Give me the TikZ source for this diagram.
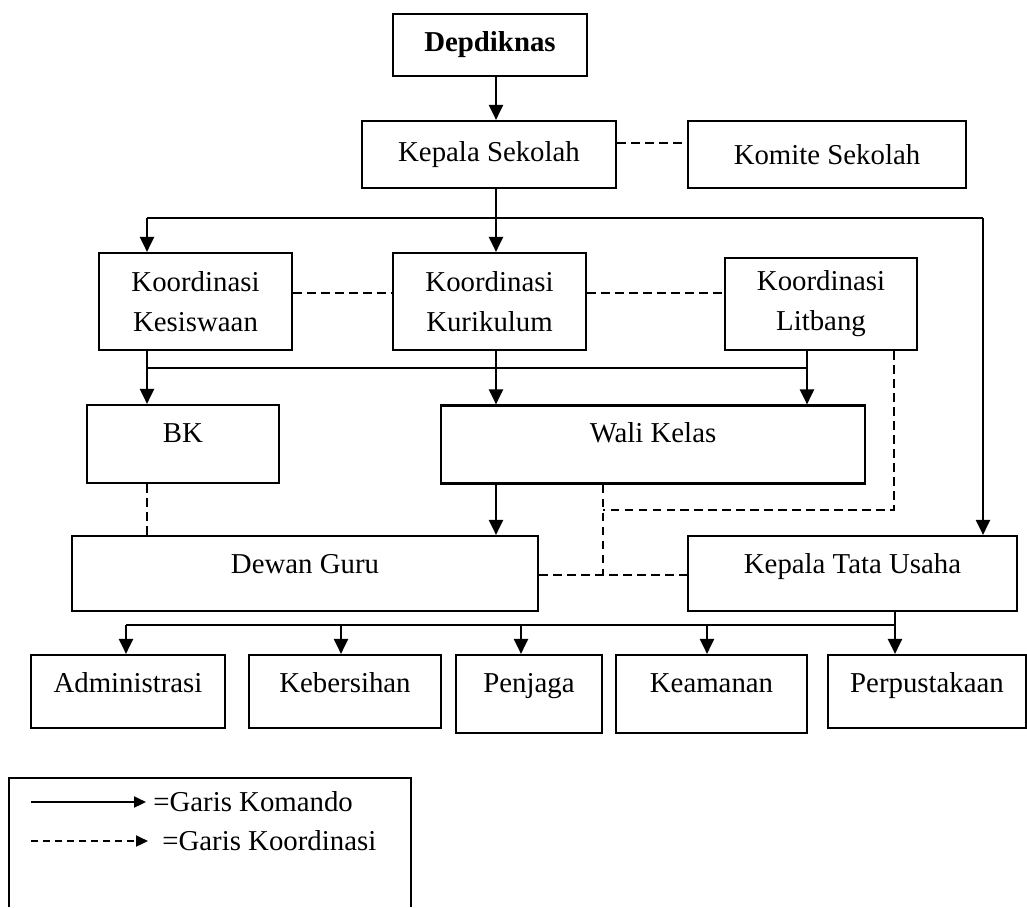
\documentclass[tikz,border=0pt]{standalone}
\usepackage{fontspec}
\setmainfont{Liberation Serif}
\usetikzlibrary{arrows.meta}
\tikzstyle{box}       = [rectangle, draw=black, line width=1.25pt]
\tikzstyle{twoline}   = [box, align=center]
\tikzstyle{topbox}    = [box, inner ysep=0pt, text height=0.74cm]
\tikzstyle{cmdline}   = [line width=1.25pt]
\tikzstyle{arrow}     = [line width=1.25pt, -{Triangle[length=0.3cm, width=0.28cm]}]
\tikzstyle{coordline} = [line width=1.25pt, dash pattern=on 0.17cm off 0.11cm]
\tikzstyle{legarrow}  = [line width=1.25pt, -{Triangle[length=0.24cm, width=0.22cm]}]
\tikzstyle{legtext}   = [anchor=west, inner sep=0pt]

\begin{document}
\begin{tikzpicture}[x=0.02cm, y=-0.02cm, font=\fontsize{16.4}{22.7}\selectfont]
    \useasboundingbox (0,0) rectangle (1027,907);

    % top
    \node (dep)    [box, minimum width=3.88cm, minimum height=1.24cm] at (490,45) {\textbf{Depdiknas}};
    \node (ks)     [box, minimum width=5.08cm, minimum height=1.34cm] at (489,154.5) {Kepala Sekolah};
    \node (komite) [box, minimum width=5.56cm, minimum height=1.34cm] at (827,154.5) {Komite Sekolah};

    % koordinasi
    \node (kes) [twoline, minimum width=3.86cm, minimum height=1.94cm] at (195.5,301.5) {Koordinasi\\Kesiswaan};
    \node (kur) [twoline, minimum width=3.86cm, minimum height=1.94cm] at (489.5,301.5) {Koordinasi\\Kurikulum};
    \node (lit) [twoline, minimum width=3.84cm, minimum height=1.84cm] at (821,304) {Koordinasi\\Litbang};

    % middle
    \node (bk)  [topbox, minimum width=3.84cm, text depth=0.82cm] at (183,444) {BK};
    \node (wk)  [topbox, minimum width=8.48cm, text depth=0.82cm] at (653,444.5) {Wali Kelas};
    \node (dg)  [topbox, minimum width=9.32cm, text depth=0.76cm] at (305,573.5) {Dewan Guru};
    \node (ktu) [topbox, minimum width=6.58cm, text depth=0.76cm] at (852.5,573.5) {Kepala Tata Usaha};

    % bottom row
    \node (adm) [topbox, minimum width=3.88cm, text depth=0.72cm] at (128,691.5) {Administrasi};
    \node (keb) [topbox, minimum width=3.84cm, text depth=0.72cm] at (345,691.5) {Kebersihan};
    \node (pen) [topbox, minimum width=2.92cm, text depth=0.82cm] at (529,694) {Penjaga};
    \node (kea) [topbox, minimum width=3.82cm, text depth=0.82cm] at (711.5,694) {Keamanan};
    \node (per) [topbox, minimum width=3.96cm, text depth=0.72cm] at (927,691.5) {Perpustakaan};

    % lanes
    \coordinate (busL) at (147,218);
    \coordinate (busA) at (496,218);
    \coordinate (busR) at (983,218);
    \coordinate (lvA)  at (0,143);
    \coordinate (lvK)  at (0,293);
    \coordinate (lvB)  at (0,368);
    \coordinate (lvC)  at (0,510);
    \coordinate (lvD)  at (0,575);
    \coordinate (lvE)  at (0,625);
    \coordinate (xLit) at (807,0);
    \coordinate (xDsh) at (894,0);
    \coordinate (xWk)  at (603,0);
    \coordinate (xTu)  at (895,0);

    % garis komando
    \draw [arrow]   (dep.south -| busA) -- (ks.north -| busA);
    \draw [cmdline] (ks.south -| busA) -- (busA);
    \draw [cmdline] (busL) -- (busR);
    \draw [arrow]   (busL) -- (kes.north -| busL);
    \draw [arrow]   (busA) -- (kur.north -| busA);
    \draw [arrow]   (busR) -- (ktu.north -| busR);

    \draw [arrow]   (kes.south -| busL) -- (bk.north -| busL);
    \draw [cmdline] (busL |- lvB) -- (xLit |- lvB);
    \draw [arrow]   (kur.south -| busA) -- (wk.north -| busA);
    \draw [arrow]   (lit.south -| xLit) -- (wk.north -| xLit);
    \draw [arrow]   (wk.south -| busA) -- (dg.north -| busA);

    \draw [arrow]   (ktu.south -| xTu) -- (per.north -| xTu);
    \foreach \x/\n in {126/adm, 341/keb, 521/pen, 707/kea} {
        \coordinate (d\n) at (\x,625);
        \draw [arrow] (d\n) -- (d\n |- \n.north);
    }
    \draw [cmdline] (dadm) -- (xTu |- lvE);

    % garis koordinasi
    \draw [coordline] (ks.east |- lvA) -- (komite.west |- lvA);
    \draw [coordline] (kes.east |- lvK) -- (kur.west |- lvK);
    \draw [coordline] (kur.east |- lvK) -- (lit.west |- lvK);
    \draw [coordline] (lit.south -| xDsh) -- (xDsh |- lvC) -- (xWk |- lvC);
    \draw [coordline] (wk.south -| xWk) -- (xWk |- lvD);
    \draw [coordline] (dg.east |- lvD) -- (ktu.west |- lvD);
    \draw [coordline] (bk.south -| busL) -- (dg.north -| busL);

    % keterangan
    \draw [cmdline] (9,907) -- (9,778) -- (411,778) -- (411,907);
    \coordinate (ka) at (31,802);
    \coordinate (kb) at (146,802);
    \coordinate (kc) at (31,841);
    \coordinate (kd) at (148,841);
    \draw [legarrow] (ka) -- (kb);
    \draw [legarrow, dash pattern=on 0.14cm off 0.1cm] (kc) -- (kd);
    \node (lkom) [legtext] at (153,802) {=Garis Komando};
    \node (lkoo) [legtext] at (162,841) {=Garis Koordinasi};

\end{tikzpicture}
\end{document}
